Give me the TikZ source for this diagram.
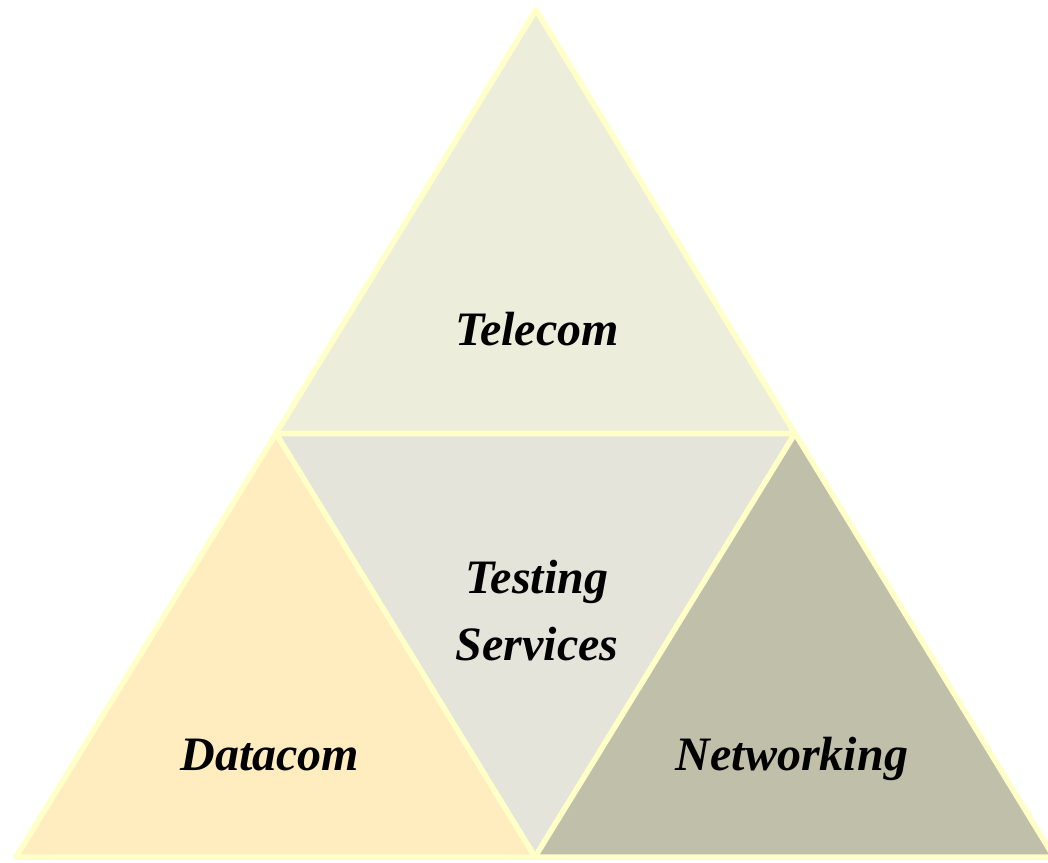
\documentclass[tikz,border=0pt]{standalone}
\usepackage{fontspec}
\setmainfont{Liberation Serif}
\definecolor{rim}{RGB}{255,255,200}
\definecolor{telecomfill}{RGB}{237,237,220}
\definecolor{testfill}{RGB}{228,228,218}
\definecolor{datafill}{RGB}{255,237,192}
\definecolor{netfill}{RGB}{192,191,169}
\begin{document}
\begin{tikzpicture}[line cap=round,line join=round,x=1pt,y=-1pt,
    part/.style={draw=rim,line width=5.5pt},
    lbl/.style={font=\fontsize{48}{67}\selectfont\bfseries\itshape,anchor=base}]
    \useasboundingbox (0,0) rectangle (1048,862);
    % corners
    \coordinate (top) at (536,10);
    \coordinate (bl) at (16,857);
    \coordinate (br) at (1054,857);
    \coordinate (ml) at (276,433.5);
    \coordinate (mr) at (795,433.5);
    \coordinate (mb) at (535,857);
    \clip (0,0) rectangle (1048,862);
    \draw [part,fill=telecomfill] (top) -- (mr) -- (ml) -- cycle;
    \draw [part,fill=testfill] (ml) -- (mr) -- (mb) -- cycle;
    \draw [part,fill=datafill] (ml) -- (mb) -- (bl) -- cycle;
    \draw [part,fill=netfill] (mr) -- (br) -- (mb) -- cycle;
    \node [lbl] (telecom) at (537,345) {Telecom};
    \node [lbl] (testing) at (537,593) {Testing};
    \node [lbl] (services) at (537,660) {Services};
    \node [lbl] (datacom) at (270,770) {Datacom};
    \node [lbl] (networking) at (792,770) {Networking};
\end{tikzpicture}
\end{document}
